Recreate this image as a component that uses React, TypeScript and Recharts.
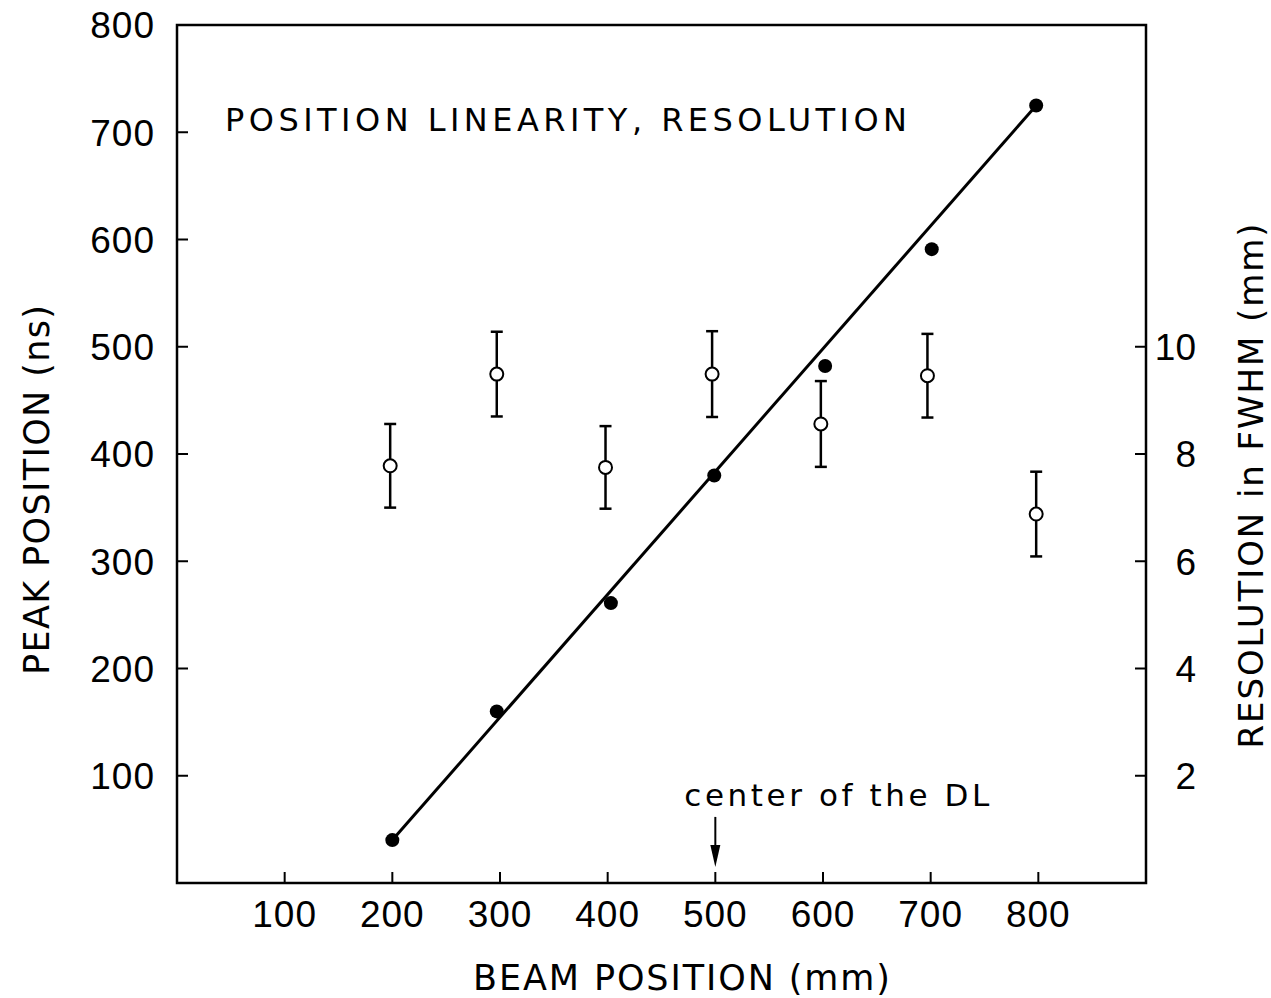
import {
  ComposedChart,
  Scatter,
  XAxis,
  YAxis,
  ErrorBar,
  ReferenceArea,
  ReferenceDot,
  Label,
} from 'recharts'

// peak position (ns) against beam position (mm), filled dots
const peakX = [200, 297, 403, 499, 602, 701, 798]
const peakNs = [40, 160, 261, 380, 482, 591, 725]

// resolution in FWHM (mm), open dots with error bars
const resX = [198, 297, 398, 497, 598, 697, 798]
const resMm = [7.78, 9.49, 7.75, 9.49, 8.56, 9.46, 6.88]
const resErr = [0.78, 0.79, 0.77, 0.8, 0.8, 0.78, 0.79]

// straight line fit through the peak positions
const fitX = [200, 798]
const fitNs = [40, 725]

const xTicks = [100, 200, 300, 400, 500, 600, 700, 800]
const leftTicks = [100, 200, 300, 400, 500, 600, 700, 800]
const rightTicks = [2, 4, 6, 8, 10]

const title = 'POSITION LINEARITY, RESOLUTION'
const xTitle = 'BEAM POSITION (mm)'
const leftTitle = 'PEAK POSITION (ns)'
const rightTitle = 'RESOLUTION in FWHM (mm)'
const note = 'center of the DL'
const noteX = 500
const noteY = 15

const peakData = peakX.map((x, i) => ({ x, y: peakNs[i] }))
const resData = resX.map((x, i) => ({ x, y: resMm[i], err: resErr[i] }))
const fitData = fitX.map((x, i) => ({ x, y: fitNs[i] }))

const FONT = '"Liberation Sans", Arial, sans-serif'
const WIDE = '"DejaVu Sans", sans-serif'
const INK = '#000'
const TICK = 11

function LeftTick({ x, y, payload }: any) {
  return (
    <g>
      <line x1={x} y1={y} x2={x + TICK} y2={y} stroke={INK} strokeWidth={2} />
      <text x={x - 22} y={y} dy="0.36em" textAnchor="end" fontSize={37} fontFamily={FONT} fill={INK} letterSpacing={1}>
        {payload.value}
      </text>
    </g>
  )
}

function RightTick({ x, y, payload }: any) {
  return (
    <g>
      <line x1={x} y1={y} x2={x - TICK} y2={y} stroke={INK} strokeWidth={2} />
      <text x={x + 50} y={y} dy="0.36em" textAnchor="end" fontSize={37} fontFamily={FONT} fill={INK}>
        {payload.value}
      </text>
    </g>
  )
}

function BottomTick({ x, y, payload }: any) {
  return (
    <g>
      <line x1={x} y1={y} x2={x} y2={y - TICK} stroke={INK} strokeWidth={2} />
      <text x={x} y={y + 44} textAnchor="middle" fontSize={37} fontFamily={FONT} fill={INK} letterSpacing={1}>
        {payload.value}
      </text>
    </g>
  )
}

function TitleText({ viewBox }: any) {
  return (
    <text x={viewBox.x + 48} y={viewBox.y + 106} fontSize={32} fontFamily={WIDE} fill={INK}
      textLength={682} lengthAdjust="spacing">
      {title}
    </text>
  )
}

function XTitle({ viewBox }: any) {
  const cx = viewBox.x + viewBox.width / 2 + 20
  return (
    <text x={cx} y={viewBox.y + 107} textAnchor="middle" fontSize={35} fontFamily={WIDE} fill={INK}
      textLength={417} lengthAdjust="spacing">
      {xTitle}
    </text>
  )
}

function LeftTitle({ viewBox }: any) {
  const tx = viewBox.x + 49
  const ty = viewBox.y + viewBox.height / 2 + 36
  return (
    <text x={tx} y={ty} transform={`rotate(-90 ${tx} ${ty})`} textAnchor="middle" fontSize={35}
      fontFamily={WIDE} fill={INK} textLength={370} lengthAdjust="spacing">
      {leftTitle}
    </text>
  )
}

function RightTitle({ viewBox }: any) {
  const tx = viewBox.x + 117
  const ty = viewBox.y + viewBox.height / 2 + 32
  return (
    <text x={tx} y={ty} transform={`rotate(-90 ${tx} ${ty})`} textAnchor="middle" fontSize={34}
      fontFamily={WIDE} fill={INK} textLength={525} lengthAdjust="spacing">
      {rightTitle}
    </text>
  )
}

function CenterArrow({ cx, cy }: any) {
  return (
    <g>
      <line x1={cx} y1={cy - 50} x2={cx} y2={cy - 16} stroke={INK} strokeWidth={2} />
      <path d={`M${cx - 5},${cy - 22} L${cx + 5},${cy - 22} L${cx},${cy} Z`} fill={INK} />
      <text x={cx - 31} y={cy - 61} fontSize={31} fontFamily={WIDE} fill={INK}
        textLength={305} lengthAdjust="spacing">
        {note}
      </text>
    </g>
  )
}

const FilledDot = (p: any) => <circle cx={p.cx} cy={p.cy} r={7} fill={INK} />
const OpenDot = (p: any) => (
  <circle cx={p.cx} cy={p.cy} r={6.5} fill="#fff" stroke={INK} strokeWidth={2} />
)
const NoDot = () => <g />

export default function App() {
  return (
    <div style={{ position: 'absolute', left: 0, top: 0, background: '#fff' }}>
      <ComposedChart width={1271} height={998} margin={{ top: 25, right: 0, bottom: 0, left: 0 }}>
        <XAxis
          dataKey="x"
          type="number"
          domain={[0, 900]}
          ticks={xTicks}
          interval={0}
          height={115}
          axisLine={false}
          tickLine={false}
          tickSize={0}
          tickMargin={0}
          tick={<BottomTick />}
        >
          <Label content={XTitle} />
        </XAxis>
        <YAxis
          yAxisId="left"
          type="number"
          domain={[0, 800]}
          ticks={leftTicks}
          interval={0}
          width={177}
          axisLine={false}
          tickLine={false}
          tickSize={0}
          tickMargin={0}
          tick={<LeftTick />}
        >
          <Label content={LeftTitle} />
        </YAxis>
        <YAxis
          yAxisId="right"
          orientation="right"
          type="number"
          domain={[0, 16]}
          ticks={rightTicks}
          interval={0}
          width={125}
          axisLine={false}
          tickLine={false}
          tickSize={0}
          tickMargin={0}
          tick={<RightTick />}
        >
          <Label content={RightTitle} />
        </YAxis>

        <ReferenceArea yAxisId="left" x1={0} x2={900} y1={0} y2={800} fill="none" stroke={INK} strokeWidth={2.5}>
          <Label content={TitleText} />
        </ReferenceArea>

        <Scatter
          yAxisId="left"
          data={fitData}
          dataKey="y"
          line={{ stroke: INK, strokeWidth: 3 }}
          shape={NoDot}
          isAnimationActive={false}
        />
        <Scatter yAxisId="left" data={peakData} dataKey="y" shape={FilledDot} isAnimationActive={false} />
        <Scatter yAxisId="right" data={resData} dataKey="y" shape={OpenDot} isAnimationActive={false}>
          <ErrorBar dataKey="err" direction="y" width={6} stroke={INK} strokeWidth={2.5} isAnimationActive={false} />
        </Scatter>

        <ReferenceDot yAxisId="left" x={noteX} y={noteY} shape={CenterArrow} />
      </ComposedChart>
    </div>
  )
}
